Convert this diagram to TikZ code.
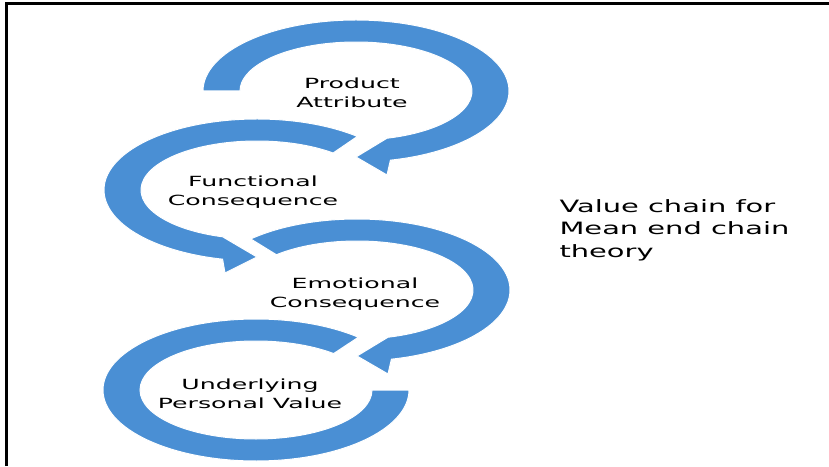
\documentclass[tikz,border=0pt]{standalone}
\usepackage{fontspec}
\newfontfamily\chainfont[FakeStretch=1.8]{DejaVu Sans}
\newfontfamily\notefont[FakeStretch=1.7]{DejaVu Sans}
\definecolor{ringblue}{RGB}{74,143,212}
\tikzset{
  ring/.style={fill=ringblue, draw=white, line width=1pt},
  label/.style={font=\chainfont\fontsize{14}{19}\selectfont, align=center, text=black},
  note/.style={font=\notefont\fontsize{17}{22.5}\selectfont, align=left, anchor=west, text=black}
}
\begin{document}
\begin{tikzpicture}[x=1pt, y=1pt]
	\useasboundingbox (0,0) rectangle (829,466);
	\draw[line width=3pt] (6,0) -- (6,462) -- (829,462);
	% rings, top to bottom
	\begin{scope}[shift={(356,375)}]
		\fill[ring] (180:153 and 71) arc[start angle=180, end angle=-77, x radius=153, y radius=71]
			-- (31,-84) -- (0,-66) -- (33,-46) -- (-77:116 and 49)
			arc[start angle=-77, end angle=180, x radius=116, y radius=49] -- cycle;
	\end{scope}
	\begin{scope}[shift={(257,276)}]
		\fill[ring] (49:153 and 71) arc[start angle=49, end angle=257, x radius=153, y radius=71]
			-- (-32,-83) -- (0,-67) -- (-34,-47) -- (257:116 and 49)
			arc[start angle=257, end angle=49, x radius=116, y radius=49] -- cycle;
	\end{scope}
	\begin{scope}[shift={(357,176)}]
		\fill[ring] (134:153 and 71) arc[start angle=134, end angle=-77, x radius=153, y radius=71]
			-- (31,-84) -- (0,-66) -- (33,-46) -- (-77:116 and 49)
			arc[start angle=-77, end angle=134, x radius=116, y radius=49] -- cycle;
	\end{scope}
	\begin{scope}[shift={(256,76)}]
		\fill[ring] (48:153 and 71) arc[start angle=48, end angle=360, x radius=153, y radius=71]
			-- (0:116 and 49)
			arc[start angle=360, end angle=48, x radius=116, y radius=49] -- cycle;
	\end{scope}
	\node[label] (attr) at (352,373) {Product\\Attribute};
	\node[label] (func) at (253,274) {Functional\\Consequence};
	\node[label] (emot) at (355,172) {Emotional\\Consequence};
	\node[label] (pval) at (250,72) {Underlying\\Personal Value};
	\node[note] (title) at (556,236) {Value chain for\\Mean end chain\\theory};
\end{tikzpicture}
\end{document}
